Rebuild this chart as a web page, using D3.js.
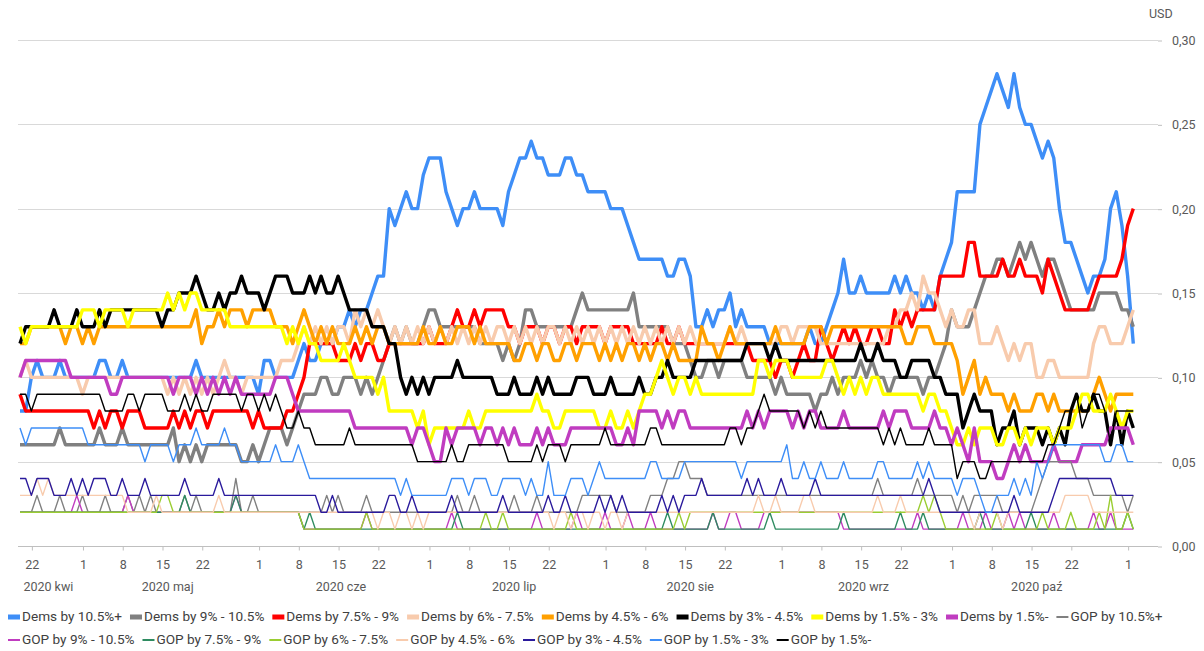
<!DOCTYPE html>
<html><head><meta charset="utf-8">
<script src="https://cdn.jsdelivr.net/npm/d3@7"></script>
<style>
body{margin:0;background:#fff;}
svg{display:block;font-family:Roboto,"Open Sans",sans-serif;}
</style></head><body>
<svg id="chart" width="1204" height="651"></svg>
<script>
// ---------- DATA (values in US cents, one per day from startDate) ----------
const startDate = "2020-04-20";

const seriesNames = ["Dems by 10.5%+","Dems by 9% - 10.5%","Dems by 7.5% - 9%","Dems by 6% - 7.5%",
  "Dems by 4.5% - 6%","Dems by 3% - 4.5%","Dems by 1.5% - 3%","Dems by 1.5%-",
  "GOP by 10.5%+","GOP by 9% - 10.5%","GOP by 7.5% - 9%","GOP by 6% - 7.5%",
  "GOP by 4.5% - 6%","GOP by 3% - 4.5%","GOP by 1.5% - 3%","GOP by 1.5%-"];

const dems105 = [
8,8,10,11,10,10,10,11,10,10, 10,10,10,10,11,11,10,10,11,10, 10,10,10,10,10,10,10,10,10,10,
10,11,10,10,10,10,10,10,10,10, 10,10,9,11,11,10,10,10,10,11, 12,11,11,12,12,12,13,13,14,13,
14,14,15,16,16,20,19,20,21,20, 20,22,23,23,23,21,20,19,20,20, 21,20,20,20,20,19,21,22,23,23,
24,23,23,22,22,22,23,23,22,22, 21,21,21,21,20,20,20,19,18,17, 17,17,17,17,16,16,17,17,16,13,
13,14,13,14,14,15,13,14,13,13, 13,13,12,12,12,12,12,12,12,13, 12,12,13,14,15,17,15,15,16,15,
15,15,15,15,16,15,16,15,15,14, 15,14,16,17,18,21,21,21,21,25, 26,27,28,27,26,28,26,25,25,24,
23,24,23,20,18,18,17,16,15,16, 16,17,20,21,19,16,12];

const dems9 = [
6,6,6,6,6,6,6,7,6,6, 6,6,6,6,7,6,6,6,7,6, 6,6,6,6,6,6,6,7,5,6,
5,6,5,6,6,6,6,6,6,5, 5,6,5,6,7,7,7,6,7,8, 9,9,9,10,10,9,9,10,10,10,
9,10,9,10,11,12,13,12,13,12, 12,13,14,14,13,13,13,13,13,13, 13,12,12,12,12,11,12,11,12,14,
14,13,13,13,13,13,13,13,14,15, 14,14,14,14,14,14,14,14,15,13, 13,13,13,13,13,12,12,12,11,10,
10,11,11,10,11,11,11,11,10,10, 10,10,10,9,10,9,9,9,9,9, 8,9,9,10,9,10,10,10,11,10,
11,10,10,9,10,10,10,10,10,9, 10,10,11,12,14,13,13,13,14,15, 16,16,17,17,16,17,18,17,18,17,
16,17,17,16,15,14,14,14,14,14, 15,15,15,15,14,14,13];

const dems75 = [
9,8,8,8,8,8,8,8,8,8, 8,8,8,7,8,7,8,8,7,8, 8,8,7,7,7,7,7,8,7,8,
7,8,8,7,8,8,8,8,8,8, 8,7,8,7,7,7,7,8,8,9, 10,12,12,12,12,12,11,11,11,12,
11,12,12,11,11,12,12,12,12,12, 12,12,13,12,12,12,13,14,13,13, 14,13,14,14,14,14,13,13,12,13,
13,13,12,13,13,12,13,13,12,13, 13,13,13,12,13,13,13,13,12,12, 12,12,12,13,12,12,13,12,12,12,
12,12,12,12,12,12,12,12,12,11, 11,11,11,10,11,11,10,11,12,11, 11,13,12,11,12,13,12,13,12,12,
13,13,12,12,14,13,14,13,14,14, 14,14,16,16,16,16,16,18,18,16, 16,16,16,17,16,16,17,16,16,16,
15,17,16,15,14,14,14,14,14,15, 16,16,16,16,17,19,20];

const dems6 = [
10,11,10,10,10,10,10,10,10,10, 10,9,10,10,10,10,10,10,10,10, 10,10,10,10,10,10,9,10,9,10,
9,10,9,10,9,10,11,10,10,9, 10,10,10,10,10,10,11,11,11,12, 13,12,13,12,13,12,13,13,12,14,
13,14,13,14,13,12,13,12,13,12, 13,12,13,12,13,12,13,12,13,12, 13,12,13,12,13,13,12,13,12,13,
12,13,12,13,13,12,13,12,13,12, 13,12,13,12,13,12,13,12,13,12, 13,12,13,12,13,12,13,12,13,12,
12,12,12,12,12,13,12,13,12,12, 12,12,12,12,13,13,12,13,13,13, 13,12,12,12,12,12,12,12,12,12,
12,12,12,13,13,14,14,15,14,16, 15,15,14,13,14,13,13,14,14,12, 12,12,13,12,11,12,11,12,12,10,
10,11,11,10,10,10,10,10,10,12, 13,13,12,12,12,13,14];

const dems45 = [
12,12,13,13,13,13,13,13,12,13, 13,12,13,12,13,13,13,13,13,13, 13,13,13,13,13,13,13,13,13,13,
13,14,12,13,13,14,13,14,14,14, 13,14,14,14,14,13,13,13,12,13, 14,13,12,13,12,13,12,12,12,13,
12,13,12,13,13,12,12,12,12,12, 12,13,12,12,13,12,12,13,13,13, 12,13,12,12,12,12,12,11,11,12,
12,11,12,12,11,11,12,12,11,12, 12,12,11,12,11,12,11,12,12,11, 12,11,12,12,11,12,11,11,11,11,
13,12,12,11,12,13,12,12,12,12, 12,12,12,13,12,12,12,12,12,13, 13,13,12,13,13,13,13,13,13,13,
13,13,13,13,13,13,12,12,13,13, 13,12,12,12,12,11,9,10,11,9, 10,9,9,9,8,9,8,8,8,9,
9,8,9,8,8,8,8,8,8,9, 10,9,8,9,9,9,9];

const dems3 = [
12,13,13,13,13,13,14,13,13,13, 14,13,13,13,14,13,14,14,14,14, 14,14,14,14,14,13,14,14,15,15,
15,16,15,14,14,15,14,15,15,16, 15,15,15,14,15,16,16,16,15,15, 15,16,15,16,15,15,16,15,14,14,
14,14,13,13,13,12,12,10,9,10, 9,10,9,10,10,10,10,11,10,10, 10,10,10,10,9,9,9,10,9,9,
9,10,9,10,9,9,9,9,10,10, 10,9,9,9,10,9,9,9,9,10, 9,9,10,10,11,10,10,10,10,11,
11,11,11,11,11,11,11,11,12,12, 12,12,11,12,11,11,11,11,11,11, 11,11,11,11,11,11,11,11,12,11,
11,12,11,11,11,10,10,11,11,11, 11,10,10,9,9,9,7,8,9,8, 8,8,6,7,7,8,6,7,7,7,
6,7,6,7,6,8,9,8,8,9, 8,8,6,8,6,8,7];

const dems15 = [
13,12,13,13,13,13,13,13,13,13, 13,14,14,14,13,14,14,14,14,13, 14,14,14,14,14,14,15,14,15,14,
15,15,14,14,14,14,14,13,13,13, 13,13,13,13,13,13,13,12,13,12, 13,12,12,11,11,11,11,12,11,10,
10,10,10,9,10,8,8,8,8,8, 7,8,6,7,7,7,7,7,7,8, 7,7,8,8,8,8,8,8,8,8,
8,9,8,8,7,7,8,8,8,8, 8,8,7,7,8,7,7,8,7,8, 9,9,10,11,10,9,10,10,9,10,
9,9,9,9,9,9,9,9,9,9, 11,11,10,11,11,11,10,10,10,10, 10,10,11,11,10,9,10,9,10,9,
10,10,9,9,9,9,9,9,9,8, 9,9,8,8,7,6,6,7,6,7, 7,7,6,6,7,7,6,7,6,7,
7,7,6,7,7,7,8,9,9,8, 8,8,9,8,7,8,8];

const dems0 = [
10,11,11,11,11,11,11,11,11,10, 10,10,10,10,10,10,9,9,10,10, 10,10,10,10,10,10,10,9,10,10,
10,9,10,9,10,9,10,9,10,9, 9,9,9,9,9,10,10,10,9,8, 8,8,8,8,8,8,8,8,8,7,
7,7,7,7,7,7,7,7,7,6, 7,7,6,5,5,7,6,7,7,7, 7,6,7,7,6,7,6,7,6,6,
6,7,6,7,6,6,6,7,7,7, 7,7,7,7,7,6,6,7,6,8, 8,8,8,7,8,7,8,8,7,7,
7,7,7,7,7,7,7,7,8,7, 8,7,8,8,8,8,7,8,7,8, 8,7,7,7,7,8,7,7,7,7,
7,7,8,7,8,8,8,7,7,7, 7,8,7,7,6,7,6,5,7,5, 5,5,4,4,5,6,5,6,5,5,
5,5,6,5,5,5,5,6,6,6, 6,6,7,7,7,7,6];

const gop105 = [
2,2,2,3,2,2,2,3,2,2, 2,3,2,2,2,3,2,2,2,3, 2,3,2,3,2,2,2,2,2,3,
2,3,2,2,2,2,2,2,4,2, 2,3,2,2,2,2,2,2,2,2, 2,2,2,2,3,2,3,2,2,2,
2,3,2,2,2,2,2,2,2,2, 2,2,2,2,2,2,2,3,2,2, 3,2,2,2,2,2,2,3,2,2,
2,3,2,2,2,2,2,2,2,3, 3,3,3,3,3,2,2,2,2,2, 2,3,3,3,4,4,5,5,4,4,
4,3,3,3,3,3,3,3,3,3, 3,3,3,3,3,3,3,3,3,3, 3,3,3,3,3,3,3,3,3,3,
3,4,3,3,3,3,3,3,4,3, 3,3,3,3,3,2,3,2,3,3, 3,3,3,2,2,2,2,2,2,3,
4,5,5,5,5,5,4,4,4,3, 3,3,3,3,3,2,3];

const gop9 = [
2,2,2,2,2,2,2,2,2,2, 3,2,2,2,2,2,2,2,2,3, 2,2,2,2,2,2,2,2,2,2,
2,2,2,2,2,2,2,2,3,2, 2,2,2,2,2,2,2,2,2,2, 1,1,1,1,1,1,1,1,1,1,
1,2,1,1,1,1,1,1,1,1, 1,1,1,1,1,1,2,1,1,1, 1,1,1,1,1,1,1,1,1,1,
1,2,1,1,1,1,1,1,2,1, 1,1,1,2,1,1,1,2,1,1, 1,2,1,1,1,1,1,1,1,1,
1,1,2,1,1,2,2,1,1,1, 1,2,2,2,2,2,2,2,2,2, 2,2,2,2,2,1,1,1,1,1,
1,1,1,1,1,1,1,1,2,1, 1,1,1,1,1,1,2,1,1,1, 2,1,1,1,2,1,2,1,1,1,
1,1,2,1,1,1,1,1,1,2, 1,1,2,1,1,1,1];

const gop75 = [
2,2,2,2,2,2,2,2,2,2, 2,2,2,2,2,2,2,2,2,2, 2,2,2,2,2,2,2,2,2,3,
2,2,2,2,2,2,2,2,3,2, 2,2,2,2,2,2,2,2,2,2, 1,2,1,1,1,1,1,1,1,1,
1,1,1,1,1,1,1,1,1,1, 1,1,1,1,1,1,1,2,1,1, 1,1,1,1,1,1,1,1,1,1,
1,1,1,1,1,1,1,1,1,1, 1,1,1,1,1,1,1,1,1,1, 1,1,1,1,2,1,1,1,1,1,
1,1,2,1,1,1,1,1,1,1, 1,1,2,1,1,1,1,1,1,1, 1,1,1,1,1,2,1,1,1,1,
1,1,1,1,1,2,1,1,1,2, 1,1,1,1,1,1,1,1,1,2, 1,1,1,1,1,1,1,1,2,1,
1,1,1,1,1,1,1,1,1,1, 1,1,1,1,1,2,1];

const gop6 = [
2,2,2,2,2,2,2,2,2,2, 2,2,2,2,2,2,2,2,2,2, 2,2,2,2,2,3,3,2,2,2,
2,2,2,2,2,2,2,2,2,2, 2,2,2,2,2,2,2,2,2,2, 1,1,1,1,1,1,1,1,1,1,
1,2,1,1,1,1,1,1,1,1, 1,1,1,1,1,1,1,1,1,1, 1,1,2,1,1,2,1,1,1,1,
1,1,1,1,1,1,1,2,1,1, 1,1,1,1,1,1,1,1,1,1, 1,1,1,1,1,1,2,1,2,2,
2,2,2,2,2,2,2,2,2,2, 2,2,2,2,2,2,2,2,2,2, 2,2,2,2,2,2,2,2,2,2,
2,2,2,2,2,2,2,2,2,3, 2,3,2,1,1,1,1,1,1,1, 1,1,2,1,1,1,1,1,1,1,
2,1,1,1,1,2,1,1,1,1, 2,1,3,1,1,2,1];

const gop45 = [
3,3,3,4,3,4,3,3,3,3, 3,3,3,3,3,3,3,3,3,2, 2,2,2,2,3,2,2,2,2,2,
2,2,2,2,2,3,2,2,2,2, 2,2,2,2,2,2,2,2,2,2, 2,2,2,2,2,2,2,2,2,2,
2,2,2,1,2,2,1,2,2,1, 2,1,2,2,2,2,2,2,2,2, 2,2,2,2,2,2,2,2,2,2,
2,2,2,2,1,2,2,1,2,2, 1,2,2,1,2,2,1,2,2,2, 2,2,2,2,2,2,2,2,2,2,
2,2,2,2,2,2,2,2,2,2, 3,2,2,3,2,2,2,2,3,3, 2,2,2,2,2,2,2,2,2,2,
2,3,2,2,2,3,2,2,2,2, 2,2,2,2,2,2,2,2,1,2, 2,2,2,1,2,2,2,2,2,2,
2,2,2,2,3,3,3,3,3,2, 2,2,2,2,2,2,2];

const gop3 = [
4,4,3,4,4,4,3,3,3,4, 3,4,3,4,4,4,3,3,4,3, 3,3,4,3,3,3,3,3,3,4,
3,3,3,3,3,4,3,3,3,3, 3,3,3,3,3,3,3,3,3,3, 3,3,3,2,2,3,2,2,2,2,
2,2,2,2,2,3,3,2,2,3, 2,2,2,2,2,2,3,2,2,2, 2,2,2,2,2,3,2,2,2,2,
2,2,2,3,2,2,3,2,2,2, 2,2,3,2,3,2,3,2,2,2, 2,2,2,3,2,3,2,3,3,3,
4,3,3,3,3,3,3,3,4,3, 4,3,3,3,4,3,3,3,3,3, 4,3,3,3,3,3,3,3,3,3,
3,3,3,3,3,3,3,3,3,3, 4,3,2,2,2,2,2,2,2,2, 2,2,2,2,2,3,2,2,2,2,
2,2,3,4,4,4,4,4,4,4, 4,4,4,3,3,3,3];

const gop15 = [
7,6,7,7,7,7,7,7,7,7, 7,7,6,6,6,6,6,6,6,6, 6,6,5,6,6,6,6,5,6,6,
6,7,6,6,6,6,7,6,6,5, 5,5,5,5,5,6,5,5,5,6, 5,4,4,4,4,4,4,4,4,4,
4,4,4,4,4,4,4,3,4,3, 3,3,3,3,3,3,4,4,4,3, 4,4,4,3,3,4,4,4,4,3,
4,3,3,5,3,3,3,4,4,4, 3,4,5,4,4,4,4,4,4,4, 4,5,5,4,4,4,4,5,5,5,
5,5,5,5,5,5,5,4,5,5, 5,5,5,5,5,6,4,4,5,4, 4,5,4,4,4,5,4,4,4,4,
4,5,5,4,4,4,4,4,5,4, 5,4,4,4,4,3,4,4,4,3, 2,2,3,3,3,4,3,4,3,5,
4,5,6,6,6,6,6,6,6,6, 6,5,5,6,6,5,5];

const gop0 = [
9,9,8,9,9,9,9,9,9,9, 9,9,9,9,9,8,8,8,8,9, 9,8,9,9,9,9,8,8,8,9,
8,9,8,8,9,9,9,9,9,8, 9,9,8,9,8,9,8,7,7,8, 7,7,6,6,6,6,6,6,7,6,
6,6,6,6,6,6,6,6,6,6, 5,5,5,5,5,5,6,5,5,6, 6,6,6,6,6,6,5,5,5,5,
5,6,5,6,6,6,5,6,6,6, 6,6,6,7,6,6,6,6,6,6, 6,7,7,6,6,6,6,6,6,6,
6,6,6,6,6,7,7,6,7,7, 8,9,8,8,8,8,8,8,7,8, 7,8,7,7,7,7,7,7,7,7,
7,7,6,7,6,7,6,6,6,6, 7,6,6,6,6,4,5,5,5,4, 4,5,5,5,5,5,5,5,5,5,
5,6,6,7,8,8,9,7,8,9, 9,8,6,8,8,8,8];

const xTickDates = ["2020-04-22","2020-05-01","2020-05-08","2020-05-15","2020-05-22",
  "2020-06-01","2020-06-08","2020-06-15","2020-06-22","2020-07-01","2020-07-08","2020-07-15","2020-07-22",
  "2020-08-01","2020-08-08","2020-08-15","2020-08-22","2020-09-01","2020-09-08","2020-09-15","2020-09-22",
  "2020-10-01","2020-10-08","2020-10-15","2020-10-22","2020-11-01"];
const monthLabels = ["2020 kwi","2020 maj","2020 cze","2020 lip","2020 sie","2020 wrz","2020 paź"];
const monthStarts = ["2020-04-01","2020-05-01","2020-06-01","2020-07-01","2020-08-01","2020-09-01","2020-10-01","2020-11-01"];
const yTickValues = [0, 0.05, 0.10, 0.15, 0.20, 0.25, 0.30];
const yUnit = "USD";

// ---------- STYLE ----------
const seriesData = [dems105,dems9,dems75,dems6,dems45,dems3,dems15,dems0,gop105,gop9,gop75,gop6,gop45,gop3,gop15,gop0];
const seriesColors = ["#3E8EF7","#808080","#FF0000","#F8CBAD","#FFA000","#000000","#FFFF00","#C03CC0",
  "#808080","#C03CC0","#2E8B60","#9ACD32","#F8CBAD","#2A1A9C","#3E8EF7","#000000"];
const thick = 3.4, thin = 1.4;

const parse = d3.utcParse("%Y-%m-%d");
const start = parse(startDate);
const nDays = dems105.length;
const dateAt = i => d3.utcDay.offset(start, i);

const W = 1204, H = 651;
const plotL = 18, plotR = 1158, plotT = 40, plotB = 546;
const x = d3.scaleUtc().domain([start, dateAt(nDays - 1)]).range([20, 1133.3]);
const y = d3.scaleLinear().domain([0, 0.30]).range([plotB, plotT]);

const svg = d3.select("#chart");
svg.append("rect").attr("width", W).attr("height", H).attr("fill", "#fff");

// gridlines
svg.append("g").selectAll("line").data(yTickValues).join("line")
  .attr("x1", plotL).attr("x2", plotR)
  .attr("y1", d => Math.round(y(d)) + 0.5).attr("y2", d => Math.round(y(d)) + 0.5)
  .attr("stroke", d => d === 0 ? "#BFBFBF" : "#D9D9D9").attr("stroke-width", 1);

// right axis
const yAxis = d3.axisRight(y).tickValues(yTickValues).tickSize(4).tickPadding(10)
  .tickFormat(d => d3.format(".2f")(d).replace(".", ","));
const gy = svg.append("g").attr("transform", `translate(${plotR},0.5)`).call(yAxis);
gy.select(".domain").remove();
gy.selectAll(".tick line").attr("stroke", "#BFBFBF");
gy.selectAll(".tick text").attr("fill", "#595959").style("font-size", "12.5px").style("font-family", "Roboto,sans-serif");
svg.append("text").attr("x", 1149).attr("y", 15).attr("dominant-baseline", "middle")
  .attr("fill", "#595959").style("font-size", "12.5px").text(yUnit);

// bottom axis
const tickDates = xTickDates.map(parse);
const xAxis = d3.axisBottom(x).tickValues(tickDates).tickSize(4).tickPadding(10)
  .tickFormat(d3.utcFormat("%-d"));
const gx = svg.append("g").attr("transform", `translate(0.5,${plotB + 0.5})`).call(xAxis);
gx.select(".domain").remove();
gx.selectAll(".tick line").attr("stroke", "#BFBFBF");
gx.selectAll(".tick text").attr("fill", "#595959").style("font-size", "12.5px").style("font-family", "Roboto,sans-serif");

// month labels
const halfDay = (x(dateAt(1)) - x(dateAt(0))) / 2;
svg.append("g").selectAll("text").data(monthLabels).join("text")
  .attr("x", (d, i) => {
    const a = Math.max(x(parse(monthStarts[i])), x(start)) - halfDay;
    const b = x(parse(monthStarts[i + 1])) - halfDay;
    return (a + b) / 2;
  })
  .attr("y", 588).attr("text-anchor", "middle").attr("dominant-baseline", "middle")
  .attr("fill", "#595959").style("font-size", "12.5px").text(d => d);

// lines
const line = d3.line().x((v, i) => x(dateAt(i))).y(v => y(v / 100));
svg.append("g").selectAll("path").data(seriesData).join("path")
  .attr("d", d => line(d)).attr("fill", "none")
  .attr("stroke", (d, i) => seriesColors[i])
  .attr("stroke-width", (d, i) => i < 8 ? thick : thin)
  .attr("stroke-linejoin", "round").attr("stroke-linecap", "butt");

// legend
const legendRows = [[0,1,2,3,4,5,6,7,8],[9,10,11,12,13,14,15]];
const legY = [617, 640];
const lg = svg.append("g").style("font-size", "13.6px");
legendRows.forEach((row, r) => {
  let cx = 8;
  row.forEach(i => {
    const g = lg.append("g").attr("transform", `translate(${cx},${legY[r]})`);
    const h = i < 8 ? 5 : 2;
    g.append("rect").attr("x", 0).attr("y", -h / 2).attr("width", 12).attr("height", h).attr("fill", seriesColors[i]);
    const t = g.append("text").attr("x", 14).attr("y", 0).attr("dominant-baseline", "middle")
      .attr("fill", "#404040").text(seriesNames[i]);
    const w = t.node().getComputedTextLength();
    cx += 14 + w + 8;
  });
});
</script>
</body></html>
